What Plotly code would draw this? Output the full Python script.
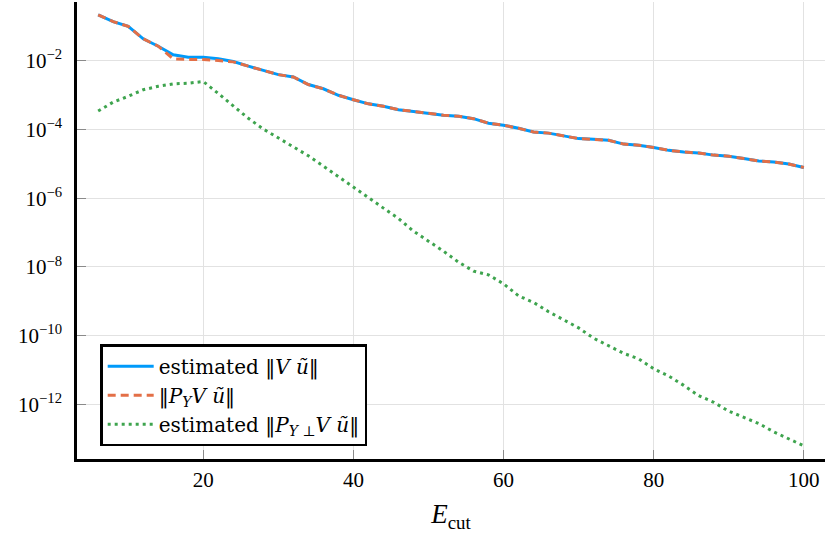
import plotly.graph_objects as go

# Ecut grid
ecut = [6, 8, 10, 12, 14, 16, 18, 20, 22, 24, 26, 28, 30, 32, 34, 36,
	38, 40, 42, 44, 46, 48, 50, 52, 54, 56, 58, 60, 62, 64, 66, 68,
	70, 72, 74, 76, 78, 80, 82, 84, 86, 88, 90, 92, 94, 96, 98, 100]

# estimated ||V u~||
est_norm = [2.11e-1, 1.35e-1, 9.86e-2, 4.27e-2, 2.60e-2, 1.46e-2, 1.245e-2, 1.245e-2,
	1.12e-2, 9.33e-3, 6.84e-3, 5.13e-3, 3.89e-3, 3.31e-3, 2.00e-3, 1.51e-3,
	9.77e-4, 7.24e-4, 5.50e-4, 4.68e-4, 3.72e-4, 3.31e-4, 2.88e-4, 2.57e-4,
	2.40e-4, 2.04e-4, 1.51e-4, 1.32e-4, 1.07e-4, 8.32e-5, 7.76e-5, 6.31e-5,
	5.37e-5, 5.13e-5, 4.79e-5, 3.72e-5, 3.47e-5, 2.95e-5, 2.45e-5, 2.19e-5,
	2.04e-5, 1.78e-5, 1.66e-5, 1.41e-5, 1.20e-5, 1.12e-5, 9.77e-6, 7.76e-6]

# ||P_Y V u~||
proj_norm = [2.11e-1, 1.35e-1, 9.86e-2, 4.27e-2, 2.60e-2, 1.12e-2, 1.07e-2, 1.07e-2,
	1.00e-2, 9.12e-3, 6.84e-3, 5.13e-3, 3.89e-3, 3.31e-3, 2.00e-3, 1.51e-3,
	9.77e-4, 7.24e-4, 5.50e-4, 4.68e-4, 3.72e-4, 3.31e-4, 2.88e-4, 2.57e-4,
	2.40e-4, 2.04e-4, 1.51e-4, 1.32e-4, 1.07e-4, 8.32e-5, 7.76e-5, 6.31e-5,
	5.37e-5, 5.13e-5, 4.79e-5, 3.72e-5, 3.47e-5, 2.95e-5, 2.45e-5, 2.19e-5,
	2.04e-5, 1.78e-5, 1.66e-5, 1.41e-5, 1.20e-5, 1.12e-5, 9.77e-6, 7.76e-6]

# estimated ||P_Yperp V u~||
perp_norm = [3.39e-4, 6.17e-4, 9.12e-4, 1.41e-3, 1.78e-3, 2.09e-3, 2.19e-3, 2.45e-3,
	1.10e-3, 4.68e-4, 2.09e-4, 1.02e-4, 5.62e-5, 3.24e-5, 1.70e-5, 8.51e-6,
	4.17e-6, 2.14e-6, 1.00e-6, 5.13e-7, 2.57e-7, 1.10e-7, 5.62e-8, 2.88e-8,
	1.38e-8, 7.59e-9, 5.89e-9, 3.24e-9, 1.45e-9, 9.33e-10, 5.01e-10, 2.88e-10,
	1.70e-10, 8.51e-11, 5.13e-11, 3.09e-11, 2.14e-11, 1.10e-11, 6.76e-12, 3.63e-12,
	1.82e-12, 1.17e-12, 6.46e-13, 4.17e-13, 2.82e-13, 1.62e-13, 1.02e-13, 6.31e-14]

x_ticks = [20, 40, 60, 80, 100]
y_tickvals = [1e-2, 1e-4, 1e-6, 1e-8, 1e-10, 1e-12]
y_ticktext = ['10<sup>−2</sup>', '10<sup>−4</sup>', '10<sup>−6</sup>',
	'10<sup>−8</sup>', '10<sup>−10</sup>', '10<sup>−12</sup>']

FONT = 'Liberation Serif'
LEGEND_FONT = 'DejaVu Serif'

fig = go.Figure()
fig.add_trace(go.Scatter(
	x=ecut, y=est_norm, mode='lines', legendgroup='a',
	name='estimated ‖<i>V</i> <i>ũ</i>‖',
	line=dict(color='#009AFA', width=3),
))
fig.add_trace(go.Scatter(
	x=ecut, y=proj_norm, mode='lines', legendgroup='b',
	name='‖<i>P</i><sub><i>Y</i></sub><i>V</i> <i>ũ</i>‖',
	line=dict(color='#E36F47', width=3, dash='8px,5px'),
))
fig.add_trace(go.Scatter(
	x=ecut, y=perp_norm, mode='lines', legendgroup='c',
	name='estimated ‖<i>P</i><sub><i>Y</i> ⊥</sub><i>V</i> <i>ũ</i>‖',
	line=dict(color='#3EA44E', width=3, dash='3px,4px'),
))

axis_common = dict(
	showline=True, linecolor='black', linewidth=2.5,
	showgrid=True, gridcolor='#e2e2e2', gridwidth=1.2,
	ticks='inside', ticklen=9, tickcolor='#8a8a8a', tickwidth=1,
	tickfont=dict(family=FONT, size=21, color='black'),
	zeroline=False, mirror=False,
)

fig.update_layout(
	width=830, height=535,
	margin=dict(l=77, r=5, t=2, b=76),
	paper_bgcolor='white', plot_bgcolor='white',
	font=dict(family=FONT, color='black'),
	showlegend=True,
	legend=dict(
		x=0.031, y=0.028, xanchor='left', yanchor='bottom',
		bgcolor='white', bordercolor='black', borderwidth=2.5,
		font=dict(family=LEGEND_FONT, size=20, color='black'),
		itemwidth=46, tracegroupgap=0,
	),
	xaxis=dict(
		range=[3.18, 102.82],
		tickmode='array', tickvals=x_ticks,
		ticklabelstandoff=0,
		title=dict(text='<i>E</i><sub>cut</sub>', font=dict(family=FONT, size=27),
			standoff=14),
		**axis_common,
	),
	yaxis=dict(
		type='log', range=[-13.58, -0.30],
		tickmode='array', tickvals=y_tickvals, ticktext=y_ticktext,
		ticklabelstandoff=8,
		**axis_common,
	),
)

# drop the default page margin so the figure sits at the window's corner
fig.write_html('out.html', config={'displayModeBar': False},
	post_script="document.body.style.margin='0px';")
